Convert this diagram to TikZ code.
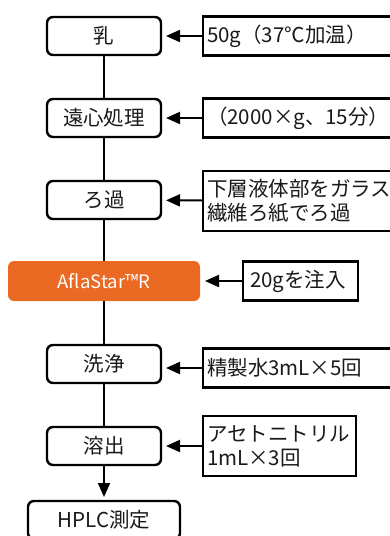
\documentclass[tikz,border=0pt]{standalone}
\usepackage{fontspec}
\newfontfamily\jp{Noto Sans CJK JP}
\usetikzlibrary{arrows.meta, positioning}
\definecolor{afla}{RGB}{234,106,35}

\begin{document}
\begin{tikzpicture}[x=1pt, y=1pt]
	\tikzset {>={Triangle[length=14pt, width=12pt]}, node distance=44pt,
		every node/.style={font=\jp\fontsize{20.5}{24}\selectfont, text=black!90, outer sep=0pt},
		stepbox/.style={draw, line width=2.4pt, rounded corners=6pt, minimum width=114pt, minimum height=38pt},
		notebox/.style={draw, line width=2.4pt, inner xsep=4pt, align=left, text width=192pt, minimum height=39pt},
		link/.style={line width=2pt} }

	\useasboundingbox (0,0) rectangle (390,-536);
	\clip (0,0) rectangle (390,-536);

	\node[stepbox] (0) at (104,-36) {乳};
	\node[stepbox, below=of 0] (1) {遠心処理};
	\node[stepbox, below=of 1] (2) {ろ過};
	\node[fill=afla, rounded corners=6pt, minimum width=192pt, minimum height=40pt, text=white, font=\jp\fontsize{18.5}{22}\selectfont, below=42pt of 2] (3) {AflaStar™R};
	\node[stepbox, below=of 3] (4) {洗浄};
	\node[stepbox, below=of 4] (5) {溶出};
	\node[stepbox, minimum width=152pt, below=36pt of 5] (6) {HPLC測定};

	\node[notebox, right=42pt of 0] (r0) {50g（37℃加温）};
	\node[notebox, right=42pt of 1] (r1) {（2000×g、15分）};
	\node[notebox, minimum height=60pt, right=42pt of 2, yshift=-1pt] (r2) {下層液体部をガラス\\繊維ろ紙でろ過};
	\node[notebox, text width=101pt, inner xsep=7pt, right=43pt of 3] (r3) {20gを注入};
	\node[notebox, right=42pt of 4, yshift=-4pt] (r4) {精製水3mL×5回};
	\node[notebox, text width=145pt, minimum height=60pt, right=42pt of 5] (r5) {アセトニトリル\\1mL×3回};

	\draw[link]
		(0) edge (1)
		(1) edge (2)
		(2) edge (3)
		(3) edge (4)
		(4) edge (5)
		(5) edge[->, shorten >=4pt] (6);

	\draw[link, ->, shorten >=5pt]
		(r0) edge (0)
		(r1) edge (1)
		(r2) edge (2)
		(r3) edge (3)
		(r5) edge (5);
	\draw[link, ->, shorten >=5pt] (r4.west) -- (r4.west -| 4.east);
\end{tikzpicture}
\end{document}
